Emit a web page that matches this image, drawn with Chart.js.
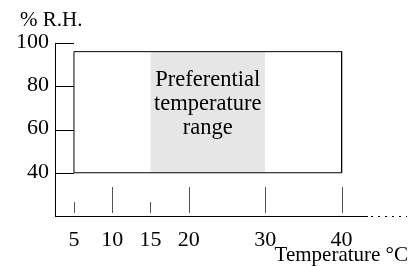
<!DOCTYPE html>
<html>
<head>
<meta charset="utf-8">
<script src="https://cdn.jsdelivr.net/npm/chart.js@4.4.0/dist/chart.umd.min.js"></script>
<style>
  html, body { margin: 0; padding: 0; background: #fff; }
</style>
</head>
<body>
<canvas id="rhChart" width="416" height="266"></canvas>
<script>
// Chart data
const tempTicks = [5, 10, 15, 20, 30, 40];
const rhTicks = [40, 60, 80, 100];
const tempSpan = [5, 40];        // temperatures covered by the box
const rhSpan = [40, 96];         // humidity covered by the box
const preferredTemps = [15, 30]; // shaded band
const boxText = ["Preferential", "temperature", "range"];

const serif = "'Liberation Serif', 'Times New Roman', serif";

// Extra drawing: inner tick marks, dotted axis end and the text labels
const decorations = {
  id: "decorations",
  afterDatasetsDraw(chart) {
    const { ctx, chartArea, scales: { x, y } } = chart;
    ctx.save();

    // y ticks run from the axis in to the box edge
    ctx.strokeStyle = "#000";
    ctx.lineWidth = 1;
    const boxLeft = x.getPixelForValue(tempSpan[0]);
    rhTicks.forEach((v) => {
      const py = Math.round(y.getPixelForValue(v)) + 0.5;
      ctx.beginPath();
      ctx.moveTo(chartArea.left, py);
      ctx.lineTo(boxLeft, py);
      ctx.stroke();
    });

    // x ticks stand up from the axis, longer ones on the tens
    ctx.strokeStyle = "#555";
    tempTicks.forEach((v) => {
      const px = Math.round(x.getPixelForValue(v)) + 0.5;
      const len = v % 10 === 0 ? 26 : 11;
      ctx.beginPath();
      ctx.moveTo(px, chartArea.bottom - 3);
      ctx.lineTo(px, chartArea.bottom - 3 - len);
      ctx.stroke();
    });

    // dotted continuation of the temperature axis
    ctx.strokeStyle = "#000";
    ctx.setLineDash([2, 5]);
    const ay = Math.round(chartArea.bottom) + 0.5;
    ctx.beginPath();
    ctx.moveTo(chartArea.right + 4, ay);
    ctx.lineTo(chartArea.right + 40, ay);
    ctx.stroke();
    ctx.setLineDash([]);

    // texts
    ctx.fillStyle = "#000";
    ctx.font = "22.5px " + serif;
    ctx.textBaseline = "middle";
    ctx.textAlign = "center";
    const cx = x.getPixelForValue((preferredTemps[0] + preferredTemps[1]) / 2);
    const cy = (y.getPixelForValue(rhSpan[0]) + y.getPixelForValue(rhSpan[1])) / 2 - 8;
    boxText.forEach((line, i) => {
      ctx.fillText(line, cx, cy + (i - 1) * 24);
    });

    ctx.font = "21px " + serif;
    ctx.textBaseline = "alphabetic";
    ctx.textAlign = "left";
    ctx.fillText("% R.H.", chartArea.left - 35, 26);
    ctx.textAlign = "right";
    ctx.fillText("Temperature °C", chartArea.right + 41, 261);

    ctx.restore();
  },
};

const ctx = document.getElementById("rhChart").getContext("2d");
const rhChart = new Chart(ctx, {
  type: "line",
  data: {
    datasets: [
      {
        // outline of the tested range
        data: [
          { x: tempSpan[0], y: rhSpan[0] },
          { x: tempSpan[0], y: rhSpan[1] },
          { x: tempSpan[1], y: rhSpan[1] },
          { x: tempSpan[1], y: rhSpan[0] },
          { x: tempSpan[0], y: rhSpan[0] },
        ],
        borderColor: "#000",
        borderWidth: 1,
        pointRadius: 0,
        fill: false,
        tension: 0,
      },
      {
        // preferential temperature band
        data: [
          { x: preferredTemps[0], y: rhSpan[1] },
          { x: preferredTemps[1], y: rhSpan[1] },
        ],
        borderWidth: 0,
        pointRadius: 0,
        backgroundColor: "#e6e6e6",
        fill: { value: rhSpan[0] },
      },
    ],
  },
  options: {
    responsive: false,
    devicePixelRatio: 1,
    animation: false,
    layout: { padding: { top: 43, right: 49, left: 0, bottom: 0 } },
    plugins: {
      legend: { display: false },
      tooltip: { enabled: false },
    },
    scales: {
      x: {
        type: "linear",
        min: 2.52,
        max: 43.32,
        afterBuildTicks: (axis) => {
          axis.ticks = tempTicks.map((v) => ({ value: v }));
        },
        afterFit: (scale) => {
          scale.height = 50;
        },
        grid: { display: false, drawTicks: false },
        border: { display: true, color: "#000", width: 1 },
        ticks: {
          autoSkip: false,
          maxRotation: 0,
          padding: 11,
          color: "#000",
          font: { family: serif, size: 22 },
        },
      },
      y: {
        type: "linear",
        min: 20,
        max: 100,
        afterBuildTicks: (axis) => {
          axis.ticks = rhTicks.map((v) => ({ value: v }));
        },
        afterFit: (scale) => {
          scale.width = 55;
        },
        grid: { display: false, drawTicks: false },
        border: { display: true, color: "#000", width: 1 },
        ticks: {
          padding: 6,
          labelOffset: -1,
          color: "#000",
          font: { family: serif, size: 22 },
        },
      },
    },
  },
  plugins: [decorations],
});
</script>
</body>
</html>
